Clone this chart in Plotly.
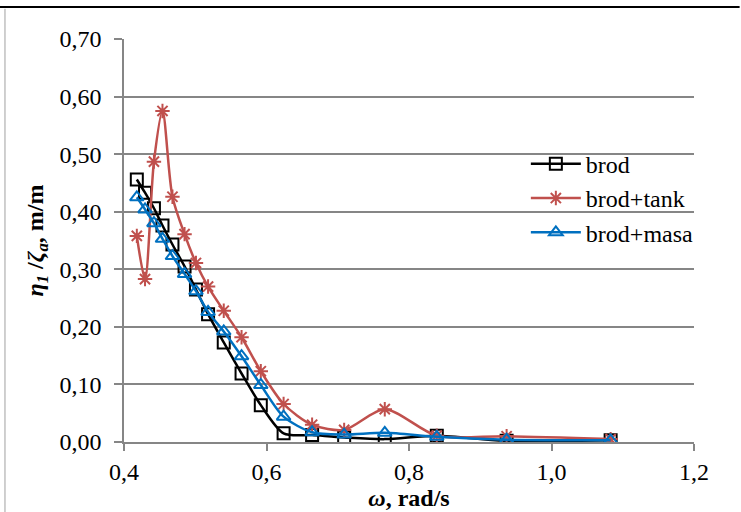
import plotly.graph_objects as go

# omega, rad/s
omega = [0.418, 0.4295, 0.442, 0.454, 0.468, 0.485, 0.501, 0.518, 0.540,
         0.565, 0.592, 0.624, 0.664, 0.709, 0.766, 0.839, 0.937, 1.083]

# eta1 / zeta_a, m/m
brod = [0.456, 0.433, 0.406, 0.376, 0.343, 0.305, 0.265, 0.222, 0.173,
        0.119, 0.064, 0.015, 0.012, 0.008, 0.005, 0.011, 0.002, 0.003]
brod_tank = [0.358, 0.283, 0.487, 0.575, 0.426, 0.361, 0.311, 0.270, 0.228,
             0.182, 0.123, 0.066, 0.030, 0.021, 0.057, 0.011, 0.010, 0.005]
brod_masa = [0.425, 0.404, 0.380, 0.353, 0.323, 0.292, 0.262, 0.226, 0.192,
             0.149, 0.099, 0.044, 0.017, 0.013, 0.016, 0.009, 0.004, 0.003]

series = [
    ("brod", brod, "#000000", "square-open", 12),
    ("brod+tank", brod_tank, "#C0504D", "asterisk-open", 12),
    ("brod+masa", brod_masa, "#0070C0", "triangle-up-open", 12),
]

serif = "Liberation Serif"
grid = "#868686"

fig = go.Figure()
for name, vals, color, symbol, size in series:
    fig.add_trace(go.Scatter(
        x=omega, y=vals, name=name, mode="lines+markers",
        line=dict(color=color, width=2.5, shape="spline", smoothing=0.8),
        marker=dict(symbol=symbol, size=size, color=color,
                    line=dict(color=color, width=2)),
    ))

fig.update_layout(
    width=741, height=512,
    margin=dict(l=124, r=47, t=39, b=70),
    paper_bgcolor="white", plot_bgcolor="white",
    separators=", ",
    font=dict(family=serif, size=24, color="black"),
    showlegend=True,
    legend=dict(x=0.705, y=0.745, xanchor="left", yanchor="top",
                bgcolor="rgba(0,0,0,0)", font=dict(family=serif, size=24),
                itemwidth=50, tracegroupgap=0),
    xaxis=dict(
        range=[0.4, 1.2], dtick=0.2, tickformat=".1f", automargin=False,
        showgrid=False, showline=True, linecolor=grid, linewidth=1.5,
        ticks="outside", ticklen=7, tickcolor=grid, tickwidth=1.5,
        zeroline=False, tickfont=dict(family=serif, size=24),
        title=dict(text="<b><i>ω</i>, rad/s</b>",
                   font=dict(family=serif, size=24), standoff=2),
    ),
    yaxis=dict(
        range=[0, 0.70], dtick=0.10, tickformat=".2f", automargin=False,
        showgrid=True, gridcolor=grid, gridwidth=1.5,
        showline=True, linecolor=grid, linewidth=1.5,
        ticks="outside", ticklen=8, tickcolor=grid, tickwidth=1.5,
        ticklabelstandoff=8,
        zeroline=False, tickfont=dict(family=serif, size=24),
        title=dict(text="<b><i>η<sub>1</sub></i> /<i>ζ<sub>a</sub></i>, m/m</b>",
                   font=dict(family=serif, size=24), standoff=9),
    ),
    shapes=[
        dict(type="line", xref="paper", yref="paper",
             x0=-0.22, x1=1.08, y0=1.0794, y1=1.0794,
             line=dict(color="black", width=2)),
        dict(type="line", xref="paper", yref="paper",
             x0=-0.2088, x1=-0.2088, y0=1.075, y1=-0.18,
             line=dict(color="#A0A0A0", width=1)),
    ],
)

fig.write_html("out.html", config={"displayModeBar": False},
               post_script="document.body.style.margin='0';")
